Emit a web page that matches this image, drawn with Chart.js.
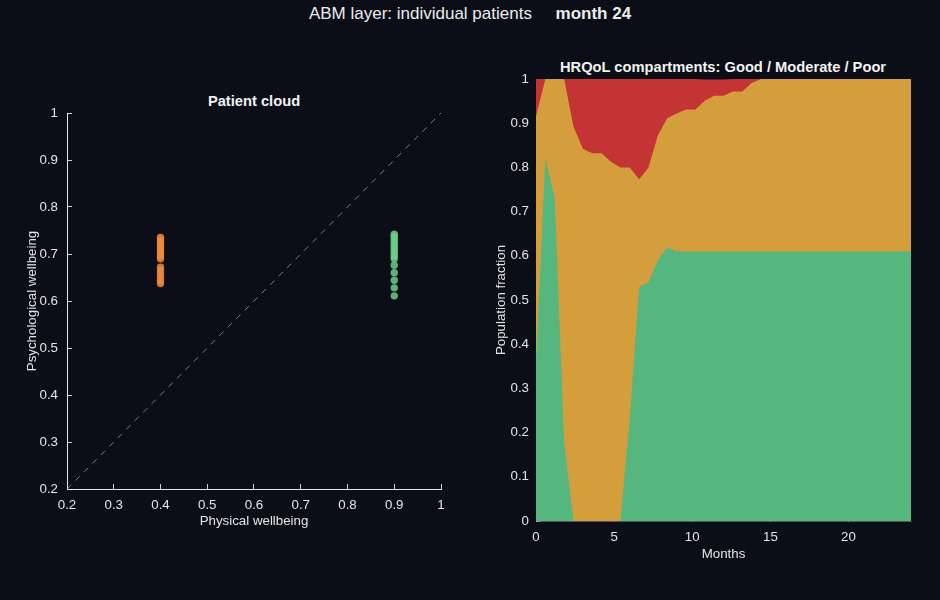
<!DOCTYPE html>
<html>
<head>
<meta charset="utf-8">
<script src="https://cdn.jsdelivr.net/npm/chart.js@4.4.1/dist/chart.umd.min.js"></script>
<style>
  html, body { margin: 0; padding: 0; background: #0b0e16; }
  body { width: 940px; height: 600px; position: relative; overflow: hidden; font-family: 'Liberation Sans', Arial, sans-serif; color: #ececec; }
  .abs { position: absolute; }
  #mainTitle { left: 0; width: 940px; top: 3px; text-align: center; font-size: 17px; line-height: 22px; white-space: pre; }
  #mainTitle b { font-weight: bold; }
  .sub { font-size: 14.7px; font-weight: bold; line-height: 18px; text-align: center; color: #f2f2f2; white-space: nowrap; }
  canvas { position: absolute; top: 0; }
</style>
</head>
<body>
<div id="mainTitle" class="abs">ABM layer: individual patients     <b>month 24</b></div>
<div class="abs sub" style="left:54px; width:400px; top:92px;">Patient cloud</div>
<div class="abs sub" style="left:523px; width:400px; top:58px;">HRQoL compartments: Good / Moderate / Poor</div>
<div class="abs" style="left:0; top:0; width:470px; height:600px;"><canvas id="cloud" width="470" height="600"></canvas></div>
<div class="abs" style="left:470px; top:0; width:470px; height:600px;"><canvas id="hrqol" width="470" height="600"></canvas></div>
<script>
// ---------- Data: patient cloud ----------
const cloudTicks = [0.2, 0.3, 0.4, 0.5, 0.6, 0.7, 0.8, 0.9, 1.0];
const moderateGroupPhysical = 0.4;
const moderateGroupPsych = [0.735, 0.730, 0.725, 0.720, 0.715, 0.710, 0.705, 0.700, 0.695, 0.690, 0.672, 0.665, 0.658, 0.650, 0.643, 0.637];
const goodGroupPhysical = 0.9;
const goodGroupPsych = [0.742, 0.738, 0.733, 0.728, 0.722, 0.717, 0.712, 0.706, 0.700, 0.695, 0.690, 0.676, 0.660, 0.644, 0.628, 0.611];
const diagonal = [0.2, 1.0];

// ---------- Data: HRQoL compartments ----------
const months = [0, 0.6, 1.2, 1.8, 2.4, 3.0, 3.6, 4.2, 4.8, 5.4, 6.0, 6.6, 7.2, 7.8, 8.4, 9.0, 9.6, 10.2, 10.8, 11.4,
  12.0, 12.6, 13.2, 13.8, 14.4, 15.0, 15.6, 16.2, 16.8, 17.4, 18.0, 18.6, 19.2, 19.8, 20.4, 21.0, 21.6, 22.2, 22.8, 23.4, 24.0];
const goodFrac = [0.36, 0.82, 0.73, 0.18, 0, 0, 0, 0, 0, 0, 0.23, 0.53, 0.54, 0.59, 0.62, 0.61, 0.61, 0.61, 0.61, 0.61,
  0.61, 0.61, 0.61, 0.61, 0.61, 0.61, 0.61, 0.61, 0.61, 0.61, 0.61, 0.61, 0.61, 0.61, 0.61, 0.61, 0.61, 0.61, 0.61, 0.61, 0.61];
const moderateFrac = [0.555, 0.18, 0.27, 0.82, 0.892, 0.842, 0.832, 0.832, 0.813, 0.80, 0.57, 0.243, 0.26, 0.283, 0.291, 0.312, 0.321, 0.321, 0.341, 0.352,
  0.352, 0.362, 0.362, 0.381, 0.39, 0.39, 0.39, 0.39, 0.39, 0.39, 0.39, 0.39, 0.39, 0.39, 0.39, 0.39, 0.39, 0.39, 0.39, 0.39, 0.39];
const poorFrac = [0.085, 0, 0, 0, 0.108, 0.158, 0.168, 0.168, 0.187, 0.20, 0.20, 0.227, 0.20, 0.127, 0.089, 0.078, 0.069, 0.069, 0.048, 0.037,
  0.037, 0.028, 0.028, 0.009, 0, 0, 0, 0, 0, 0, 0, 0, 0, 0, 0, 0, 0, 0, 0, 0, 0];
const fracTicks = [0, 0.1, 0.2, 0.3, 0.4, 0.5, 0.6, 0.7, 0.8, 0.9, 1.0];
const monthTicks = [0, 5, 10, 15, 20];

// ---------- Styling ----------
const FONT = "'Liberation Sans', Arial, sans-serif";
const TXT = '#e4e4e4';
const FS = 13.3;
Chart.defaults.font.family = FONT;
Chart.defaults.font.size = FS;
Chart.defaults.color = TXT;
const fmt = v => String(Math.round(v * 10) / 10);
const fixTicks = arr => (s => { s.ticks = arr.map(v => ({ value: v })); });

// ---------- Patient cloud ----------
new Chart(document.getElementById('cloud'), {
  type: 'scatter',
  data: {
    datasets: [
      {
        label: 'Moderate',
        data: moderateGroupPsych.map(y => ({ x: moderateGroupPhysical, y })),
        backgroundColor: 'rgba(238,140,58,0.85)', borderWidth: 0, pointRadius: 3.7, order: 1
      },
      {
        label: 'Good',
        data: goodGroupPsych.map(y => ({ x: goodGroupPhysical, y })),
        backgroundColor: 'rgba(108,206,138,0.85)', borderWidth: 0, pointRadius: 3.7, order: 1
      },
      {
        type: 'line', label: 'diag',
        data: diagonal.map(v => ({ x: v, y: v })),
        borderColor: 'rgba(200,200,200,0.6)', borderWidth: 1, borderDash: [6, 6],
        pointRadius: 0, fill: false, order: 2
      }
    ]
  },
  options: {
    responsive: false, animation: false,
    layout: { padding: { top: 113, right: 29, left: 0, bottom: 0 } },
    plugins: { legend: { display: false }, tooltip: { enabled: false } },
    scales: {
      x: {
        type: 'linear', min: 0.2, max: 1,
        afterBuildTicks: fixTicks(cloudTicks),
        afterFit: s => { s.height = 111; },
        grid: { drawOnChartArea: false, drawTicks: true, tickLength: -5, color: 'rgba(230,230,230,0.9)' },
        border: { display: true, color: '#e6e6e6', width: 1 },
        ticks: { padding: 13, callback: fmt, color: TXT, maxRotation: 0, autoSkip: false },
        title: { display: true, text: 'Physical wellbeing', color: TXT, font: { size: FS }, padding: { top: 0, bottom: 71 } }
      },
      y: {
        type: 'linear', min: 0.2, max: 1,
        afterBuildTicks: fixTicks(cloudTicks),
        afterFit: s => { s.width = 67; },
        grid: { drawOnChartArea: false, drawTicks: true, tickLength: -5, color: 'rgba(230,230,230,0.9)' },
        border: { display: true, color: '#e6e6e6', width: 1 },
        ticks: { padding: 14, callback: fmt, color: TXT, autoSkip: false },
        title: { display: true, text: 'Psychological wellbeing', color: TXT, font: { size: FS }, padding: { top: 24, bottom: 0 } }
      }
    }
  }
});

// ---------- HRQoL compartments ----------
// Stacked; each layer fills down to the origin and upper layers are drawn first,
// so lower layers paint over them without seams.
const series = [
  { label: 'Good', values: goodFrac, color: '#55b77e' },
  { label: 'Moderate', values: moderateFrac, color: '#d59e3c' },
  { label: 'Poor', values: poorFrac, color: '#c43434' }
];
new Chart(document.getElementById('hrqol'), {
  type: 'line',
  data: {
    datasets: series.map(s => ({
      label: s.label,
      data: months.map((m, i) => ({ x: m, y: s.values[i] })),
      backgroundColor: s.color, borderColor: s.color, borderWidth: 0,
      pointRadius: 0, fill: 'origin', tension: 0
    }))
  },
  options: {
    responsive: false, animation: false,
    layout: { padding: { top: 79, right: 29, left: 0, bottom: 0 } },
    plugins: { legend: { display: false }, tooltip: { enabled: false } },
    scales: {
      x: {
        type: 'linear', min: 0, max: 24, z: 1,
        afterBuildTicks: fixTicks(monthTicks),
        afterFit: s => { s.height = 79; },
        grid: { drawOnChartArea: false, drawTicks: true, tickLength: -5, color: 'rgba(255,255,255,0.3)' },
        border: { display: true, color: 'rgba(255,255,255,0.3)', width: 1 },
        ticks: { padding: 13, callback: fmt, color: TXT, maxRotation: 0, autoSkip: false },
        title: { display: true, text: 'Months', color: TXT, font: { size: FS }, padding: { top: 0, bottom: 38 } }
      },
      y: {
        type: 'linear', min: 0, max: 1, stacked: true, z: 1,
        afterBuildTicks: fixTicks(fracTicks),
        afterFit: s => { s.width = 66; },
        grid: { drawOnChartArea: false, drawTicks: true, tickLength: -5, color: 'rgba(255,255,255,0.3)' },
        border: { display: true, color: 'rgba(255,255,255,0.3)', width: 1 },
        ticks: { padding: 12, callback: fmt, color: TXT, autoSkip: false },
        title: { display: true, text: 'Population fraction', color: TXT, font: { size: FS }, padding: { top: 23, bottom: 0 } }
      }
    }
  }
});
</script>
</body>
</html>
